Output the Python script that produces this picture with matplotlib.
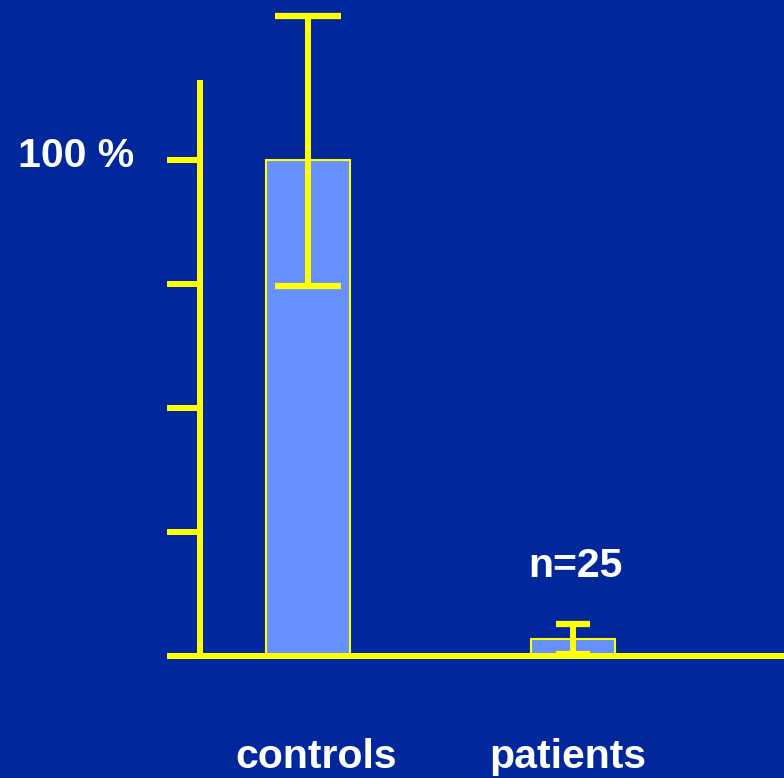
import matplotlib.pyplot as plt

plt.rcParams['font.family'] = ['Liberation Sans', 'DejaVu Sans']

categories = ['controls', 'patients']
means = [100, 3.5]
err_low = [25.5, 3]
err_high = [29, 3]
y_ticks = [0, 25, 50, 75, 100]
y_label_value = 100
y_label_text = '100 %'
n_label = 'n=25'

bg = '#00279C'
bar_color = '#6690FF'
yellow = '#FFFF00'
spine_x = -0.4075

fig = plt.figure(figsize=(7.84, 7.78), dpi=100, facecolor=bg)
ax = fig.add_axes([167 / 784, 122 / 778, 617 / 784, 656 / 778])
ax.set_facecolor(bg)

x = list(range(len(categories)))
ax.bar(x, means, width=0.317, color=bar_color, edgecolor=yellow, linewidth=1.5, zorder=2)

# different cap widths for the two bars
caps = [24, 12]
for i in x:
    ax.errorbar(x[i], means[i], yerr=[[err_low[i]], [err_high[i]]], fmt='none',
                ecolor=yellow, elinewidth=4.3, capsize=caps[i], capthick=4.5, zorder=3)

txt = dict(color='white', fontsize=29.5, fontweight='bold')
ax.annotate(n_label, (x[1], 16), xytext=(2, 0), textcoords='offset points',
            ha='center', va='baseline', **txt)

# category labels under the axis, nudged like the original slide
label_shift = [6, -4]
for i, name in enumerate(categories):
    ax.annotate(name, (x[i], 0), xytext=(label_shift[i], -80.5), textcoords='offset points',
                ha='center', va='baseline', **txt)

ax.annotate(y_label_text, (spine_x, y_label_value), xytext=(-47, -5), textcoords='offset points',
            ha='right', va='baseline', **txt)

ax.set_xlim(-0.532, 1.796)
ax.set_ylim(0, 132.26)

for s in ['top', 'right']:
    ax.spines[s].set_visible(False)
ax.spines['left'].set_position(('data', spine_x))
ax.spines['left'].set_bounds(0, 116.1)
for s in ['left', 'bottom']:
    ax.spines[s].set_color(yellow)
    ax.spines[s].set_linewidth(4.3)
    ax.spines[s].set_capstyle('butt')

ax.set_yticks(y_ticks, [''] * len(y_ticks))
ax.tick_params(axis='y', direction='out', length=23.8, width=4.3, color=yellow)
ax.set_xticks([])

fig.savefig('out.png', dpi=100, facecolor=bg)
